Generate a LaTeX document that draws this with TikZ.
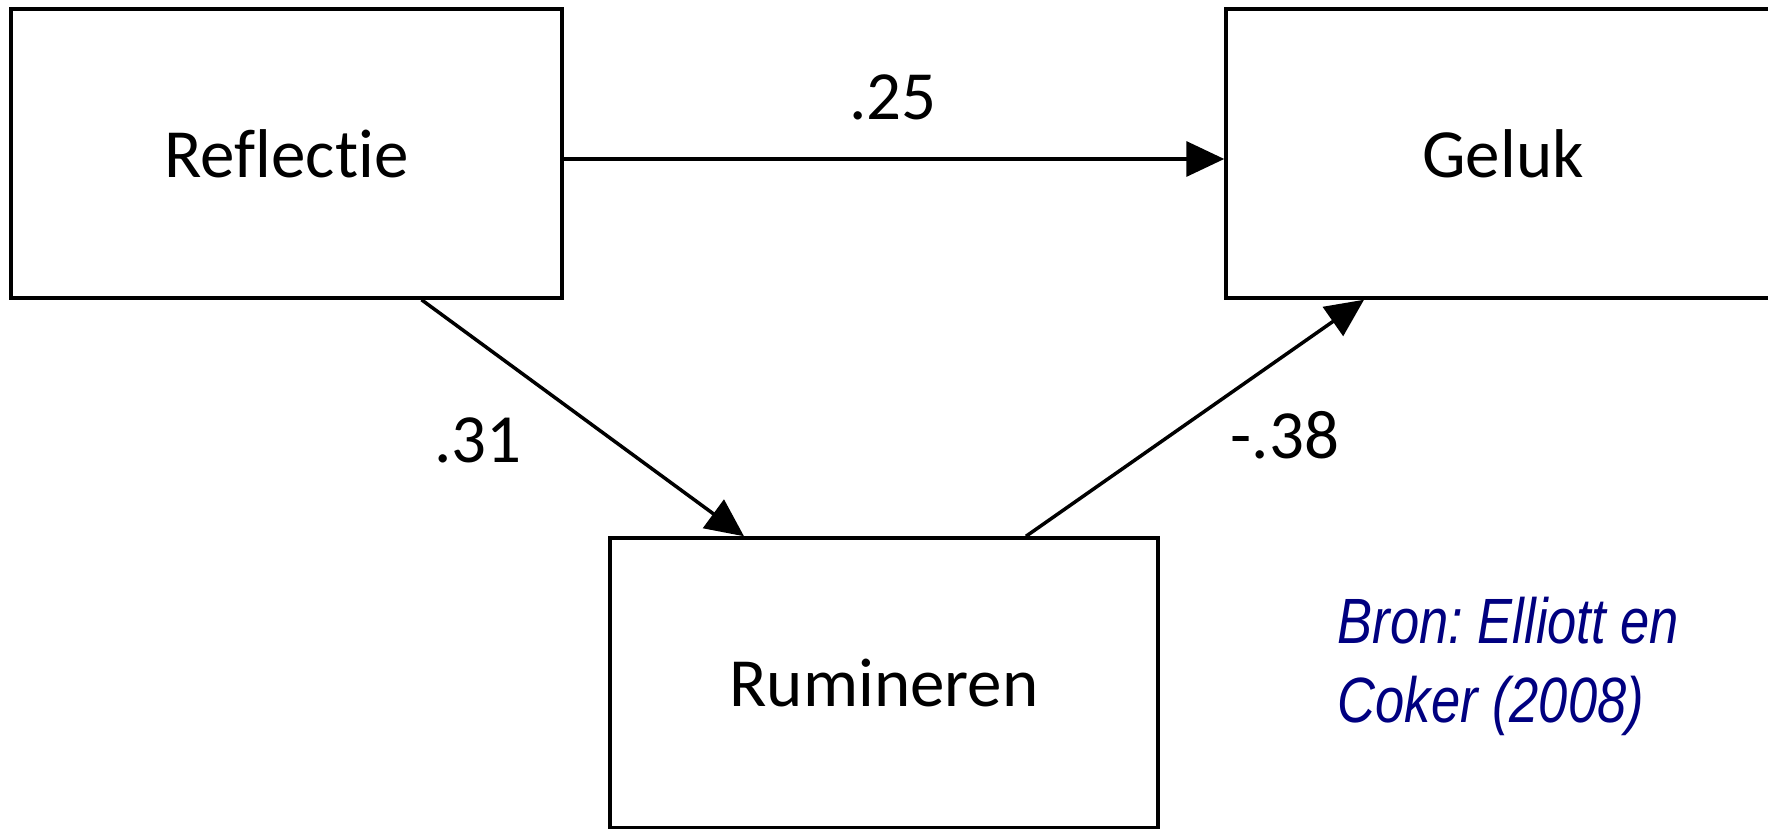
\documentclass[tikz,border=0pt]{standalone}
\usepackage{fontspec}
\setmainfont{Carlito}[Ligatures=NoCommon]
\newfontfamily\bronfont[FakeStretch=0.82]{Liberation Sans}
\usetikzlibrary{
  arrows.meta,
  positioning,
  }
\definecolor{bronblue}{RGB}{0,0,128}
\frenchspacing

\begin{document}
\begin{tikzpicture}[x=1pt,y=1pt,line width=3.5pt,
                    boxnode/.style={rectangle, draw, inner sep=0pt, minimum width=551pt, minimum height=289pt, font=\fontsize{69}{80}\selectfont},
                    weight/.style={inner sep=0pt, font=\fontsize{69}{80}\selectfont},
                    path/.style={-{Triangle[length=38pt,width=35pt]}}]
                        \useasboundingbox (0,0) rectangle (1768,828);
                        \clip (0,0) rectangle (1768,828);
                        \node[boxnode] (refl) at (286.5, 674.5) {Reflectie};
                        \node[boxnode, minimum width=554pt] (gel) at (1503, 674.5) {Geluk};
                        \node[boxnode, minimum width=548pt, minimum height=290pt] (rum) at (884, 145) {Rumineren};

                        \node[weight] (w25) at (893, 731) {.25};
                        \node[weight] (w31) at (478, 388) {.31};
                        \node[weight] (w38) at (1285, 393) {-.38};

                        \node[anchor=north west, inner sep=0pt, align=left, text=bronblue,
                              font=\bronfont\itshape\fontsize{64}{79}\selectfont] (bron) at (1336, 233)
                              {Bron: Elliott en\\Coker (2008)};

                        \draw[path] ([yshift=-5.5pt]refl.east) -- ([yshift=-5.5pt]gel.west);
                        \draw[path] ([xshift=135pt]refl.south) -- ([xshift=-140pt]rum.north);
                        \draw[path] ([xshift=142pt]rum.north) -- ([xshift=-139pt]gel.south);
                    \end{tikzpicture}
\end{document}
